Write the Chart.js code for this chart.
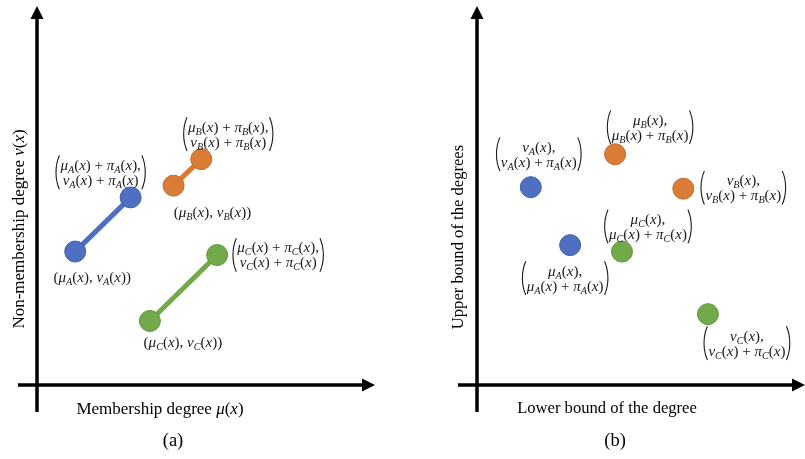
<!DOCTYPE html>
<html><head><meta charset="utf-8">
<script src="https://cdn.jsdelivr.net/npm/chart.js@4/dist/chart.umd.min.js"></script>
<style>
html,body{margin:0;padding:0;background:#fff;}
#wrap{position:relative;width:805px;height:459px;}
canvas{position:absolute;top:0;}
#ca{left:0;} #cb{left:400px;}
</style></head><body>
<div id="wrap"><canvas id="ca" width="400" height="459"></canvas><canvas id="cb" width="405" height="459"></canvas></div>
<script>
// ---------- data ----------
const series = ['A', 'B', 'C'];
const colors = ['#4E6FC2', '#DA7B36', '#72A94A'];
const borders = ['#41609F', '#C06A2C', '#62943E'];
// panel (a): lower point (μ, ν) and upper point (μ+π, ν+π)
const aLowX = [11.3, 40.4, 33.4];
const aLowY = [35.2, 52.6, 16.9];
const aUpX  = [27.7, 48.6, 53.3];
const aUpY  = [49.5, 59.6, 34.3];
// panel (b): interval points (μ, μ+π) and (ν, ν+π)
const bMuX = [28.4, 42.1, 44.2];
const bMuY = [36.9, 60.9, 35.2];
const bNuX = [16.4, 62.9, 70.4];
const bNuY = [52.2, 51.8, 18.7];
// label texts
const aLowLabels = ['($μ_A(x)$, $ν_A(x)$)', '($μ_B(x)$, $ν_B(x)$)', '($μ_C(x)$, $ν_C(x)$)'];
const aUpLabels = [
  ['$μ_A(x)$ + $π_A(x)$,', '$ν_A(x)$ + $π_A(x)$'],
  ['$μ_B(x)$ + $π_B(x)$,', '$ν_B(x)$ + $π_B(x)$'],
  ['$μ_C(x)$ + $π_C(x)$,', '$ν_C(x)$ + $π_C(x)$']];
const bMuLabels = [
  ['$μ_A(x)$,', '$μ_A(x)$ + $π_A(x)$'],
  ['$μ_B(x)$,', '$μ_B(x)$ + $π_B(x)$'],
  ['$μ_C(x)$,', '$μ_C(x)$ + $π_C(x)$']];
const bNuLabels = [
  ['$ν_A(x)$,', '$ν_A(x)$ + $π_A(x)$'],
  ['$ν_B(x)$,', '$ν_B(x)$ + $π_B(x)$'],
  ['$ν_C(x)$,', '$ν_C(x)$ + $π_C(x)$']];
const titlesA = {x: 'Membership degree $μ$($x$)', y: 'Non-membership degree $ν$($x$)', cap: '(a)'};
const titlesB = {x: 'Lower bound of the degree', y: 'Upper bound of the degrees', cap: '(b)'};

// ---------- label placement (pixel offsets from the point) ----------
const offALow = [[17, 25], [39, 26], [33, 21]];
const offAUp  = [[-30, -25], [27, -25], [61, 0]];
const offBMu  = [[-5, 33], [35, -27], [26, -25]];
const offBNu  = [[8, -33], [60, -1], [39, 29]];
const LABEL_SIZE = 15;

// ---------- rich text ----------
const FONT = '"Liberation Serif", "Times New Roman", serif';
function tokens(s) {
  const out = []; let math = false;
  for (let i = 0; i < s.length; i++) {
    const c = s[i];
    if (c === '$') { math = !math; continue; }
    let k;
    if (math && c === '_') { k = 'sub'; i++; out.push({t: s[i], k}); continue; }
    if (math && /[a-zμνπ]/.test(c)) k = 'it'; else k = 'up';
    if (out.length && out[out.length - 1].k === k) out[out.length - 1].t += c; else out.push({t: c, k});
  }
  return out;
}
function fontFor(k, size) {
  if (k === 'up') return size + 'px ' + FONT;
  if (k === 'it') return 'italic ' + size + 'px ' + FONT;
  return 'italic ' + (size * 0.68).toFixed(1) + 'px ' + FONT;
}
function measureRich(ctx, s, size) {
  let w = 0;
  for (const tk of tokens(s)) { ctx.font = fontFor(tk.k, size); w += ctx.measureText(tk.t).width; }
  return w;
}
function drawRich(ctx, s, cx, cy, size, color) {
  const w = measureRich(ctx, s, size);
  let x = cx - w / 2;
  ctx.fillStyle = color || '#1a1a1a';
  ctx.textBaseline = 'alphabetic';
  ctx.textAlign = 'left';
  const base = cy + size * 0.33;
  for (const tk of tokens(s)) {
    ctx.font = fontFor(tk.k, size);
    const y = tk.k === 'sub' ? base + size * 0.2 : base;
    ctx.fillText(tk.t, x, y);
    x += ctx.measureText(tk.t).width;
  }
  return w;
}
function bigParen(ctx, x, top, bot, left) {
  const d = left ? 1 : -1;
  ctx.beginPath();
  ctx.moveTo(x + 3 * d, top);
  ctx.bezierCurveTo(x - 1.5 * d, top + (bot - top) * 0.3, x - 1.5 * d, top + (bot - top) * 0.7, x + 3 * d, bot);
  ctx.strokeStyle = '#1a1a1a';
  ctx.lineWidth = 1.1;
  ctx.stroke();
}
function drawBlock(ctx, lines, cx, cy, size) {
  const gap = size * 1.0;
  const y1 = cy - gap / 2, y2 = cy + gap / 2;
  const w1 = measureRich(ctx, lines[0], size), w2 = measureRich(ctx, lines[1], size);
  drawRich(ctx, lines[0], cx, y1, size);
  drawRich(ctx, lines[1], cx, y2, size);
  const w = Math.max(w1, w2);
  bigParen(ctx, cx - w / 2 - 4, y1 - size * 0.62, y2 + size * 0.62, true);
  bigParen(ctx, cx + w / 2 + 4, y1 - size * 0.62, y2 + size * 0.62, false);
}

// ---------- axes plugin ----------
function arrowAxes(titles, labelFn) {
  return {
    id: 'arrowAxes',
    beforeDatasetsDraw(chart) {
      const ctx = chart.ctx, a = chart.chartArea;
      const x0 = chart.scales.x.getPixelForValue(0), y0 = chart.scales.y.getPixelForValue(0);
      ctx.save();
      ctx.strokeStyle = '#000'; ctx.fillStyle = '#000'; ctx.lineWidth = 3.5;
      ctx.beginPath(); ctx.moveTo(x0, y0 + 27); ctx.lineTo(x0, a.top + 10); ctx.stroke();
      ctx.beginPath(); ctx.moveTo(x0 - 19, y0); ctx.lineTo(a.right - 10, y0); ctx.stroke();
      ctx.beginPath(); ctx.moveTo(x0, a.top); ctx.lineTo(x0 - 6.5, a.top + 13); ctx.lineTo(x0 + 6.5, a.top + 13); ctx.closePath(); ctx.fill();
      ctx.beginPath(); ctx.moveTo(a.right, y0); ctx.lineTo(a.right - 13, y0 - 6.5); ctx.lineTo(a.right - 13, y0 + 6.5); ctx.closePath(); ctx.fill();
      ctx.restore();
    },
    afterDatasetsDraw(chart) {
      const ctx = chart.ctx;
      ctx.save();
      labelFn(chart, ctx);
      const t = titles;
      drawRich(ctx, t.x, t.xPos[0], t.xPos[1], t.size, '#000');
      ctx.save(); ctx.translate(t.yPos[0], t.yPos[1]); ctx.rotate(-Math.PI / 2);
      drawRich(ctx, t.y, 0, 0, t.size, '#000'); ctx.restore();
      drawRich(ctx, t.cap, t.capPos[0], t.capPos[1], 18.5, '#000');
      ctx.restore();
    }
  };
}
function ptPix(chart, ds, i) {
  const el = chart.getDatasetMeta(ds).data[i];
  return [el.x, el.y];
}

const common = {
  responsive: false, animation: false, devicePixelRatio: 1,
  plugins: {legend: {display: false}, tooltip: {enabled: false}, title: {display: false}},
  scales: {x: {type: 'linear', min: 0, max: 100, display: false}, y: {type: 'linear', min: 0, max: 100, display: false}},
  events: []
};

// ---------- chart (a) ----------
const dsA = series.map((s, i) => ({
  label: s,
  data: [{x: aLowX[i], y: aLowY[i]}, {x: aUpX[i], y: aUpY[i]}],
  showLine: true, borderColor: colors[i], borderWidth: 5,
  pointRadius: 10.5, pointBackgroundColor: colors[i], pointBorderColor: borders[i], pointBorderWidth: 1,
  clip: false
}));
titlesA.xPos = [160, 408]; titlesA.yPos = [18, 229]; titlesA.capPos = [173, 440]; titlesA.size = 17;
new Chart(document.getElementById('ca'), {
  type: 'scatter',
  data: {datasets: dsA},
  options: Object.assign({}, common, {layout: {autoPadding: false, padding: {left: 37, right: 25, top: 6, bottom: 74}}}),
  plugins: [arrowAxes(titlesA, (chart, ctx) => {
    series.forEach((s, i) => {
      const p0 = ptPix(chart, i, 0), p1 = ptPix(chart, i, 1);
      drawRich(ctx, aLowLabels[i], p0[0] + offALow[i][0], p0[1] + offALow[i][1], LABEL_SIZE);
      drawBlock(ctx, aUpLabels[i], p1[0] + offAUp[i][0], p1[1] + offAUp[i][1], LABEL_SIZE);
    });
  })]
});

// ---------- chart (b) ----------
const dsB = series.map((s, i) => ({
  label: s,
  data: [{x: bMuX[i], y: bMuY[i]}, {x: bNuX[i], y: bNuY[i]}],
  showLine: false,
  pointRadius: 10.5, pointBackgroundColor: colors[i], pointBorderColor: borders[i], pointBorderWidth: 1,
  clip: false
}));
titlesB.xPos = [207, 408]; titlesB.yPos = [58, 237]; titlesB.capPos = [215, 440]; titlesB.size = 16.6;
new Chart(document.getElementById('cb'), {
  type: 'scatter',
  data: {datasets: dsB},
  options: Object.assign({}, common, {layout: {autoPadding: false, padding: {left: 77, right: 0, top: 6, bottom: 74}}}),
  plugins: [arrowAxes(titlesB, (chart, ctx) => {
    series.forEach((s, i) => {
      const p0 = ptPix(chart, i, 0), p1 = ptPix(chart, i, 1);
      drawBlock(ctx, bMuLabels[i], p0[0] + offBMu[i][0], p0[1] + offBMu[i][1], LABEL_SIZE);
      drawBlock(ctx, bNuLabels[i], p1[0] + offBNu[i][0], p1[1] + offBNu[i][1], LABEL_SIZE);
    });
  })]
});
</script></body></html>
